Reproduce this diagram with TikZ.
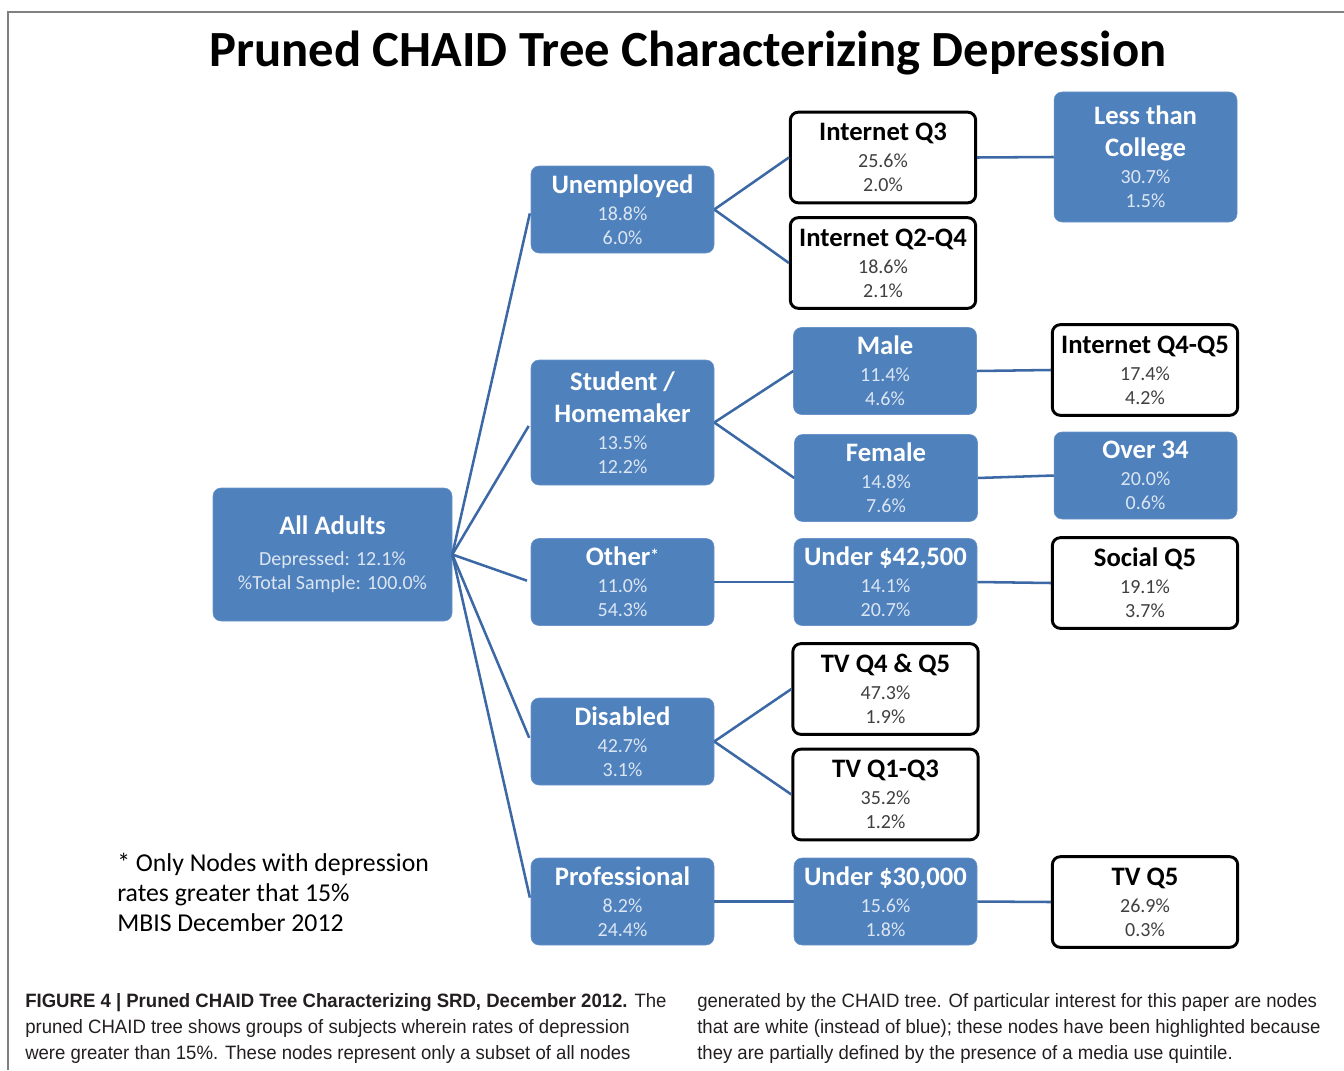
\documentclass[tikz,border=0pt]{standalone}
\usepackage{fontspec}
\setmainfont{Carlito}
\newfontfamily\capfont[FakeStretch=0.96]{Liberation Sans}
\usetikzlibrary{positioning}
\usepackage{xcolor}
\definecolor{groupcolor}{RGB}{79,129,189}
\definecolor{grouptext}{RGB}{220,230,242}
\definecolor{mediatext}{RGB}{64,64,64}
\definecolor{linkcolor}{RGB}{60,105,165}
\definecolor{framecolor}{RGB}{128,128,128}
\definecolor{captext}{RGB}{35,31,32}

\newcommand{\ttl}{\fontsize{20}{18}\selectfont\bfseries}
% one-line heading, two figures
\newcommand{\chaid}[3]{{\ttl #1}\\[2.25pt]\textcolor{subtext}{#2}\\\textcolor{subtext}{#3}}
% two-line heading, two figures
\newcommand{\chaidtwo}[4]{{\ttl #1}\\[6pt]{\ttl #2}\\[2.25pt]\textcolor{subtext}{#3}\\\textcolor{subtext}{#4}}

\begin{document}
\begin{tikzpicture}[
    x=0.75pt, y=-0.75pt,
    every node/.style={font=\fontsize{15}{18}\selectfont},
    groupnode/.style={rectangle, rounded corners=6pt, fill=groupcolor, draw=groupcolor!85!white, thin, text=white, align=center, minimum width=137.25pt, minimum height=65.25pt, inner sep=0pt, execute at begin node={\colorlet{subtext}{grouptext}}},
    medianode/.style={rectangle, rounded corners=6pt, fill=white, draw=black, line width=2.2pt, text=black, align=center, minimum width=139pt, minimum height=68pt, inner sep=0pt, execute at begin node={\colorlet{subtext}{mediatext}}},
    link/.style={draw=linkcolor, line width=1.9pt},
    rootlink/.style={link, shorten >=3pt}
]
\useasboundingbox (0,0) rectangle (1344,1070);

% Frame
\draw[framecolor, line width=1.3pt] (8,1070) -- (8,12) -- (1344,12);

% Title
\node[font=\fontsize{38}{44}\selectfont\bfseries] (title) at (688,53) {Pruned CHAID Tree Characterizing Depression};

% Root
\node[groupnode, minimum width=179.25pt, minimum height=99.75pt] (root) at (332.5,554.5) {
    {\ttl All Adults}\\[5pt]
    \textcolor{subtext}{Depressed: 12.1\%}\\
    \textcolor{subtext}{\%Total Sample: 100.0\%}
};

% Column 1: first split
\node[groupnode] (unemp) at (622.5,209.5) {\chaid{Unemployed}{18.8\%}{6.0\%}};
\node[groupnode, minimum height=93.75pt] (student) at (622.5,422.5) {\chaidtwo{Student /}{Homemaker}{13.5\%}{12.2\%}};
\node[groupnode] (other) at (622.5,582) {\chaid{Other\raisebox{3pt}{\fontsize{13}{13}\selectfont*}}{11.0\%}{54.3\%}};
\node[groupnode] (disabled) at (622.5,741.5) {\chaid{Disabled}{42.7\%}{3.1\%}};
\node[groupnode] (prof) at (622.5,901.5) {\chaid{Professional}{8.2\%}{24.4\%}};

% Column 2: second split
\node[medianode] (netq3) at (883,157.5) {\chaid{Internet Q3}{25.6\%}{2.0\%}};
\node[medianode] (netq24) at (883,263) {\chaid{Internet Q2-Q4}{18.6\%}{2.1\%}};
\node[groupnode] (male) at (885,371) {\chaid{Male}{11.4\%}{4.6\%}};
\node[groupnode] (female) at (886,478) {\chaid{Female}{14.8\%}{7.6\%}};
\node[groupnode] (inc42) at (885.5,582) {\chaid{Under \$42,500}{14.1\%}{20.7\%}};
\node[medianode] (tvq45) at (885.5,689) {\chaid{TV Q4 \& Q5}{47.3\%}{1.9\%}};
\node[medianode] (tvq13) at (885.5,794.5) {\chaid{TV Q1-Q3}{35.2\%}{1.2\%}};
\node[groupnode] (inc30) at (885.5,901.5) {\chaid{Under \$30,000}{15.6\%}{1.8\%}};

% Column 3: third split
\node[groupnode, minimum height=97.5pt] (college) at (1145.5,157) {\chaidtwo{Less than}{College}{30.7\%}{1.5\%}};
\node[medianode] (netq45) at (1145,370) {\chaid{Internet Q4-Q5}{17.4\%}{4.2\%}};
\node[groupnode] (over34) at (1145.5,475.5) {\chaid{Over 34}{20.0\%}{0.6\%}};
\node[medianode] (socq5) at (1145,583) {\chaid{Social Q5}{19.1\%}{3.7\%}};
\node[medianode] (tvq5) at (1145,902) {\chaid{TV Q5}{26.9\%}{0.3\%}};

% Branches
\foreach \kid in {unemp, student, other, disabled, prof}
    \draw[rootlink] (root.east) -- (\kid.west);
\draw[link] (unemp.east) -- (netq3.west);
\draw[link] (unemp.east) -- (netq24.west);
\draw[link] (student.east) -- (male.west);
\draw[link] (student.east) -- (female.west);
\draw[link] (other.east) -- (inc42.west);
\draw[link] (disabled.east) -- (tvq45.west);
\draw[link] (disabled.east) -- (tvq13.west);
\draw[link] (prof.east) -- (inc30.west);
\draw[link] (netq3.east) -- (college.west);
\draw[link] (male.east) -- (netq45.west);
\draw[link] (female.east) -- (over34.west);
\draw[link] (inc42.east) -- (socq5.west);
\draw[link] (inc30.east) -- (tvq5.west);

% Footnote
\node[anchor=west, align=left, inner sep=0pt, font=\fontsize{19.3}{22.5}\selectfont] (note) at (117,892) {
    * Only Nodes with depression\\
    rates greater that 15\%\\
    MBIS December 2012
};

% Caption
\node[anchor=west, align=left, inner sep=0pt, text=captext, font=\capfont\fontsize{14.5}{19.5}\selectfont] (capleft) at (25,1028) {
    \textbf{FIGURE 4 | Pruned CHAID Tree Characterizing SRD, December 2012.} The\\
    pruned CHAID tree shows groups of subjects wherein rates of depression\\
    were greater than 15\%. These nodes represent only a subset of all nodes
};
\node[anchor=west, align=left, inner sep=0pt, text=captext, font=\capfont\fontsize{14.5}{19.5}\selectfont] (capright) at (697,1028) {
    generated by the CHAID tree. Of particular interest for this paper are nodes\\
    that are white (instead of blue); these nodes have been highlighted because\\
    they are partially defined by the presence of a media use quintile.
};

\end{tikzpicture}
\end{document}
